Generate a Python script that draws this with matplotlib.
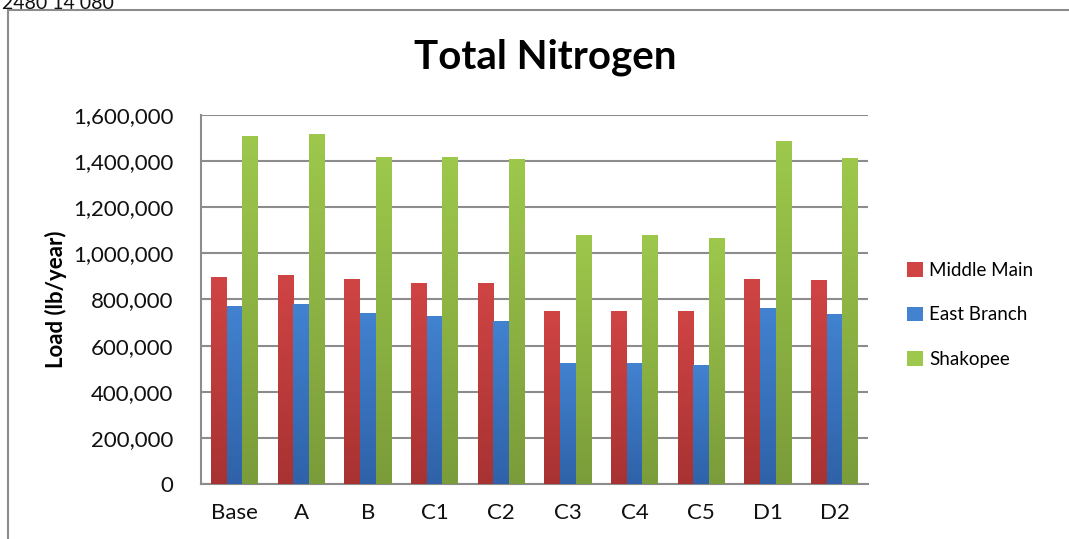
import matplotlib
matplotlib.use("Agg")
import matplotlib.pyplot as plt
import numpy as np
from matplotlib.patches import Rectangle
from matplotlib.ticker import FuncFormatter
from matplotlib.colors import LinearSegmentedColormap

plt.rcParams['font.family'] = ['Lato', 'DejaVu Sans']

categories = ["Base", "A", "B", "C1", "C2", "C3", "C4", "C5", "D1", "D2"]
middle_main = [899000, 905000, 890000, 870000, 870000, 749000, 749000, 749000, 890000, 883000]
east_branch = [772000, 780000, 743000, 728000, 708000, 525000, 523000, 516000, 763000, 736000]
shakopee = [1510000, 1516000, 1419000, 1419000, 1411000, 1081000, 1081000, 1065000, 1487000, 1412000]
series_names = ["Middle Main", "East Branch", "Shakopee"]
y_ticks = [0, 200000, 400000, 600000, 800000, 1000000, 1200000, 1400000, 1600000]

colors = [("#D04444", "#A83232"), ("#4282D0", "#2F62A8"), ("#9EC84C", "#7A9C3A")]

fig = plt.figure(figsize=(10.69, 5.39), dpi=100)
ax = fig.add_axes([201/1069, 1-484/539, (868-201)/1069, (484-115)/539])

x = np.arange(len(categories))
w = 0.235
series = [middle_main, east_branch, shakopee]
grad = np.linspace(0, 1, 256).reshape(-1, 1)
for i, (vals, name, (c_top, c_bot)) in enumerate(zip(series, series_names, colors)):
    bars = ax.bar(x + (i - 1) * w, vals, w, color=c_top, label=name, zorder=3, linewidth=0)
    cmap = LinearSegmentedColormap.from_list("g%d" % i, [c_bot, c_top])
    for b in bars:
        bx, by = b.get_x(), b.get_y()
        bw, bh = b.get_width(), b.get_height()
        im = ax.imshow(grad, cmap=cmap, aspect='auto', origin='lower',
                       extent=[bx, bx + bw, by, by + bh], zorder=3.5)
        im.set_clip_path(b)

ax.set_xlim(-0.5, len(categories) - 0.5)
ax.set_ylim(0, 1600000)
ax.set_yticks(y_ticks)
ax.yaxis.set_major_formatter(FuncFormatter(lambda v, p: f"{int(v):,}"))
ax.set_xticks(x)
ax.set_xticklabels(categories)
ax.tick_params(axis='both', length=0, labelsize=16, colors='#111111')
ax.tick_params(axis='y', pad=20)
ax.tick_params(axis='x', pad=14)
ax.grid(axis='y', color='#8c8c8c', linewidth=1.5, zorder=0)
ax.set_axisbelow(True)
for s in ['top', 'right']:
    ax.spines[s].set_visible(False)
for s in ['left', 'bottom']:
    ax.spines[s].set_color('#8c8c8c')
    ax.spines[s].set_linewidth(1.5)

ax.set_ylabel("Load (lb/year)", fontsize=16, fontweight='bold')
ax.yaxis.set_label_coords(-(201-67)/(868-201), 0.5)

fig.text(545/1069, 1-57/539, "Total Nitrogen", fontsize=29, fontweight='bold',
         ha='center', va='center')

handles, labels = ax.get_legend_handles_labels()
leg = fig.legend(handles, labels, loc='center left', bbox_to_anchor=(890/1069, 1-315/539),
                 frameon=False, fontsize=13.5, handlelength=0.85, handleheight=0.85,
                 handletextpad=0.35, labelspacing=1.45)

fig.patches.append(Rectangle((8/1069, -0.02), 1.0, 1-10/539 + 0.02, transform=fig.transFigure,
                             fill=False, edgecolor='#8c8c8c', linewidth=1.5))
fig.text(2/1069, 1+5/539, "2480 14 080", fontsize=14, ha='left', va='top', color='#111111')

fig.savefig("out.png", dpi=100)
